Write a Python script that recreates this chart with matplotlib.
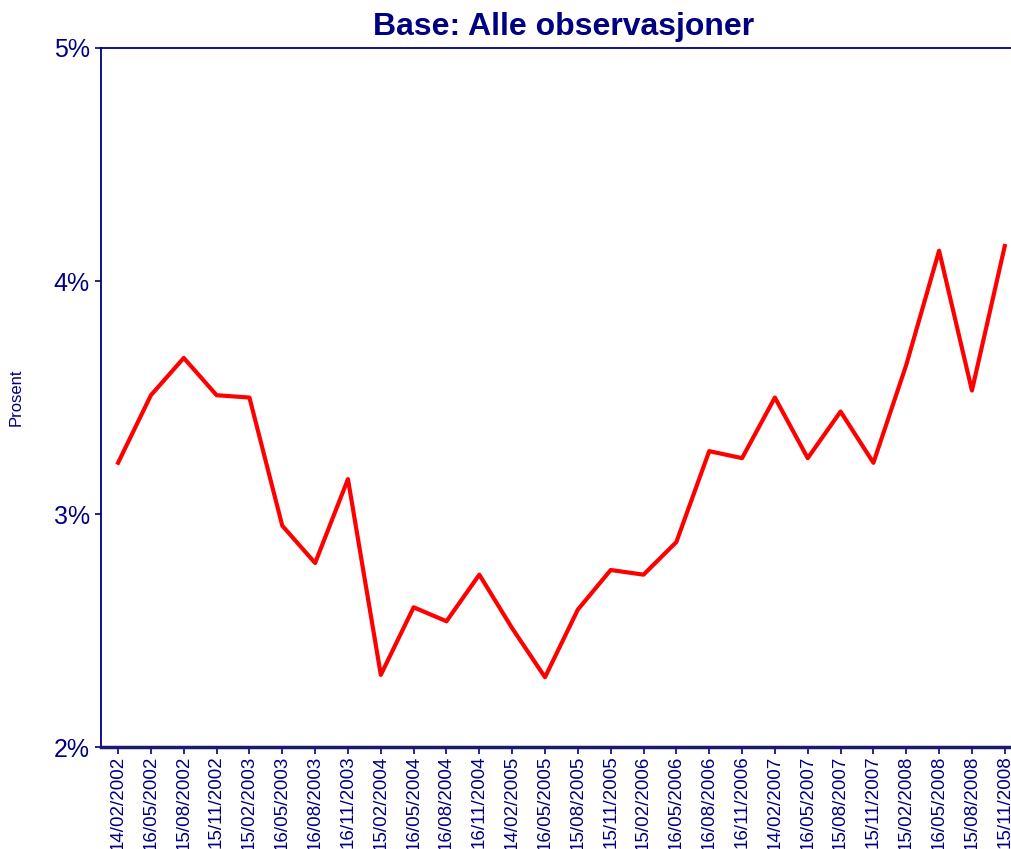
import matplotlib
matplotlib.use('Agg')
import matplotlib.pyplot as plt
from matplotlib.ticker import FuncFormatter

dates = ['14/02/2002', '16/05/2002', '15/08/2002', '15/11/2002', '15/02/2003',
         '16/05/2003', '16/08/2003', '16/11/2003', '15/02/2004', '16/05/2004',
         '16/08/2004', '16/11/2004', '14/02/2005', '16/05/2005', '15/08/2005',
         '15/11/2005', '15/02/2006', '16/05/2006', '16/08/2006', '16/11/2006',
         '14/02/2007', '16/05/2007', '15/08/2007', '15/11/2007', '15/02/2008',
         '16/05/2008', '15/08/2008', '15/11/2008']
prosent = [3.22, 3.51, 3.67, 3.51, 3.50, 2.95, 2.79, 3.15, 2.31, 2.60,
           2.54, 2.74, 2.51, 2.30, 2.59, 2.76, 2.74, 2.88, 3.27, 3.24,
           3.50, 3.24, 3.44, 3.22, 3.64, 4.13, 3.53, 4.15]

navy = '#000080'
plt.rcParams['font.family'] = ['Liberation Sans', 'DejaVu Sans']

fig = plt.figure(figsize=(10.12, 8.49), dpi=100)
ax = fig.add_axes([0.0998, 0.120, 0.9002, 0.8235])

x = list(range(len(dates)))
ax.plot(x, prosent, color='#ff0000', lw=3)

ax.set_xlim(-0.52, len(dates) - 1 + 0.22)
ax.set_ylim(2, 5)
ax.set_yticks([2, 3, 4, 5])
ax.yaxis.set_major_formatter(FuncFormatter(lambda v, p: f'{v:.0f}%'))
ax.set_xticks(x)
ax.set_xticklabels(dates, rotation=90)

ax.tick_params(axis='y', colors=navy, labelsize=18, length=4, width=1.2, pad=4)
ax.tick_params(axis='x', colors=navy, labelsize=13.5, length=5, width=1.2, pad=1)

ax.spines['right'].set_visible(False)
ax.spines['left'].set_color(navy)
ax.spines['left'].set_linewidth(1.3)
ax.spines['top'].set_color(navy)
ax.spines['top'].set_linewidth(1.3)
ax.spines['bottom'].set_color('#1a1a70')
ax.spines['bottom'].set_linewidth(2.5)

fig.text(16 / 1012, 1 - 397 / 849, 'Prosent', color=navy, fontsize=12,
         rotation=90, ha='center', va='center')
fig.text(564 / 1012, 1 - 27 / 849, 'Base: Alle observasjoner', color=navy,
         fontsize=23, fontweight='bold', ha='center', va='center')

fig.savefig('out.png', dpi=100)
